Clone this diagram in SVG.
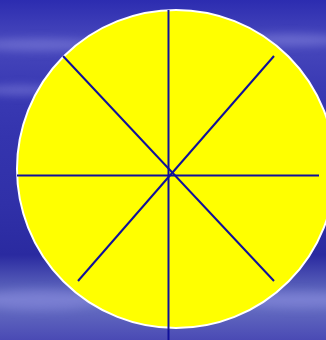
<svg xmlns="http://www.w3.org/2000/svg" width="326" height="340" viewBox="0 0 326 340">
<defs>
<linearGradient id="bg" x1="0" y1="0" x2="0" y2="1">
<stop offset="0" stop-color="#2c2cb0"/>
<stop offset="0.12" stop-color="#4848bc"/>
<stop offset="0.25" stop-color="#3a3ab4"/>
<stop offset="0.4" stop-color="#3434ae"/>
<stop offset="0.6" stop-color="#3030a8"/>
<stop offset="0.75" stop-color="#2a2aa0"/>
<stop offset="0.88" stop-color="#6a74c4"/>
<stop offset="1" stop-color="#4a4ab4"/>
</linearGradient>
<filter id="blur" x="-20%" y="-50%" width="140%" height="200%"><feGaussianBlur stdDeviation="4"/></filter>
<style>
.spoke{stroke:#10109a;stroke-width:2;fill:none}
</style>
</defs>
<rect width="326" height="340" fill="url(#bg)"/>
<g filter="url(#blur)" fill="#8a8ae0" opacity="0.5">
<ellipse cx="40" cy="45" rx="60" ry="6"/>
<ellipse cx="20" cy="90" rx="40" ry="5"/>
<ellipse cx="290" cy="40" rx="50" ry="6"/>
<ellipse cx="300" cy="300" rx="60" ry="8"/>
<ellipse cx="40" cy="300" rx="60" ry="10"/>
</g>
<g id="wheel">
<ellipse cx="176" cy="169" rx="159" ry="159" fill="#ffff00" stroke="#ffffff" stroke-width="2"/>
</g>
<g id="spokes">
<line class="spoke" x1="168.5" y1="10" x2="168.5" y2="340"/>
<line class="spoke" x1="17" y1="175.5" x2="319" y2="175.5"/>
<line class="spoke" x1="63" y1="56" x2="274" y2="281"/>
<line class="spoke" x1="274" y1="56" x2="78" y2="281"/>
</g>
</svg>
